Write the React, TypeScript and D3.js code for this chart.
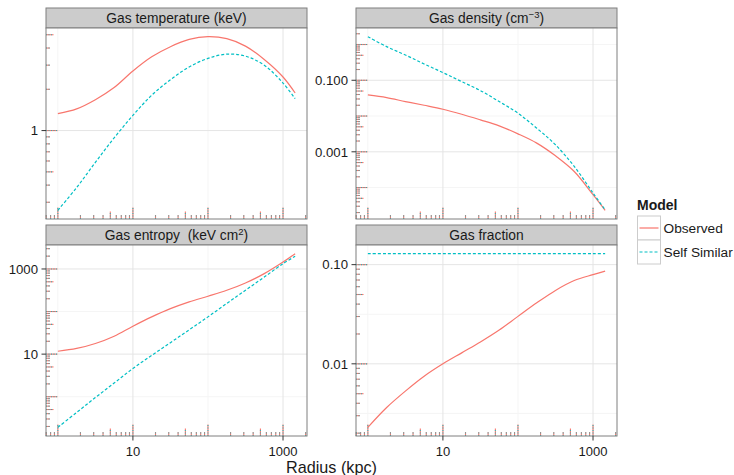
import React from 'react';
import * as d3 from 'd3';

// ---------- data ----------
const radius = [1, 1.78, 3.16, 5.62, 10, 17.8, 31.6, 56.2, 100, 178, 316, 562, 1000, 1450];

const tempObserved = [1.33, 1.44, 1.68, 2.06, 2.72, 3.45, 4.09, 4.62, 4.84, 4.68, 4.13, 3.3, 2.46, 1.88];
const tempSelfSimilar = [0.262, 0.384, 0.586, 0.884, 1.29, 1.81, 2.35, 2.91, 3.36, 3.61, 3.49, 3.0, 2.22, 1.71];

const densObserved = [0.039, 0.0328, 0.0254, 0.02, 0.0155, 0.01125, 0.00782, 0.00532, 0.00318, 0.00175, 0.000773, 0.000282, 0.0000631, 0.0000231];
const densSelfSimilar = [1.656, 0.871, 0.509, 0.286, 0.164, 0.0918, 0.0515, 0.0254, 0.012, 0.00457, 0.00157, 0.00039, 0.0000703, 0.000024];

const entObserved = [11.7, 13.6, 17.8, 26.4, 45.3, 75.0, 117, 169, 229, 316, 470, 778, 1459, 2286];
const entSelfSimilar = [0.191, 0.427, 0.955, 2.09, 4.61, 9.33, 18.6, 37.2, 75.0, 155, 316, 646, 1334, 1982];

const fgasObserved = [0.00229, 0.00363, 0.00531, 0.0075, 0.01, 0.0129, 0.0166, 0.0219, 0.0301, 0.0412, 0.055, 0.0692, 0.0793, 0.0859];
const fgasSelfSimilar = [0.129, 0.129, 0.129, 0.129, 0.129, 0.129, 0.129, 0.129, 0.129, 0.129, 0.129, 0.129, 0.129, 0.129];

const xBreaks = [10, 1000];
const xLabels = ['10', '1000'];
const xMinor = [1, 100];

const tempBreaks = [1];
const tempLabels = ['1'];
const tempMinor: number[] = [];
const densBreaks = [0.1, 0.001];
const densLabels = ['0.100', '0.001'];
const densMinor = [1, 0.01, 0.0001];
const entBreaks = [10, 1000];
const entLabels = ['10', '1000'];
const entMinor = [1, 100];
const fgasBreaks = [0.01, 0.1];
const fgasLabels = ['0.01', '0.10'];
const fgasMinor = [Math.pow(10, -1.5), Math.pow(10, -2.5)];

const seriesNames = ['Observed', 'Self Similar'];

// ---------- style ----------
const W = 734;
const H = 475;
const FONT = '"Liberation Sans", Arial, Helvetica, sans-serif';
const RED = '#F8766D';
const CYAN = '#00BFC4';
const PW = 261;
const PH = 191;
const LEFTS = [46, 356];
const TOPS = [28, 245];

function expandLog(vals: number[]): [number, number] {
  const logs = vals.map((v) => Math.log10(v));
  const lo = d3.min(logs) as number;
  const hi = d3.max(logs) as number;
  const pad = (hi - lo) * 0.05;
  return [Math.pow(10, lo - pad), Math.pow(10, hi + pad)];
}

function logTickValues(domain: [number, number]) {
  const lo = Math.log10(Math.min(domain[0], domain[1]));
  const hi = Math.log10(Math.max(domain[0], domain[1]));
  const out: { v: number; len: number }[] = [];
  for (let k = Math.floor(lo) - 1; k <= Math.ceil(hi); k++) {
    for (let m = 1; m <= 9; m++) {
      const v = m * Math.pow(10, k);
      const lv = Math.log10(v);
      if (lv >= lo - 1e-9 && lv <= hi + 1e-9) {
        out.push({ v, len: m === 1 ? 11.5 : m === 5 ? 7.5 : 4 });
      }
    }
  }
  return out;
}

type PanelProps = {
  title: React.ReactNode;
  obs: number[];
  ss: number[];
  breaks: number[];
  labels: string[];
  minor: number[];
  col: number;
  row: number;
};

function Panel({ title, obs, ss, breaks, labels, minor, col, row }: PanelProps) {
  const x0 = LEFTS[col];
  const y0 = TOPS[row];
  const x = d3.scaleLog().domain(expandLog(radius)).range([x0, x0 + PW]);
  const y = d3.scaleLog().domain(expandLog([...obs, ...ss])).range([y0 + PH, y0]);
  const line = d3
    .line<number>()
    .x((_, i) => x(radius[i]))
    .y((d) => y(d))
    .curve(d3.curveCatmullRom.alpha(0.5));
  const xt = logTickValues(x.domain() as [number, number]);
  const yt = logTickValues(y.domain() as [number, number]);
  const bottom = y0 + PH;
  return (
    <g>
      {/* strip */}
      <rect x={x0} y={y0 - 20} width={PW} height={20} fill="#CCCCCC" stroke="#7F7F7F" strokeWidth={1} />
      <text x={x0 + PW / 2} y={y0 - 5} textAnchor="middle" fontSize={13.8} fontFamily={FONT} fill="#1A1A1A">
        {title}
      </text>
      {/* panel background */}
      <rect x={x0} y={y0} width={PW} height={PH} fill="white" />
      {/* grid */}
      {minor.map((v, i) => (
        <line key={'hm' + i} x1={x0} x2={x0 + PW} y1={y(v)} y2={y(v)} stroke="#F5F5F5" strokeWidth={1} />
      ))}
      {xMinor.map((v, i) => (
        <line key={'vm' + i} x1={x(v)} x2={x(v)} y1={y0} y2={bottom} stroke="#F5F5F5" strokeWidth={1} />
      ))}
      {breaks.map((v, i) => (
        <line key={'hM' + i} x1={x0} x2={x0 + PW} y1={y(v)} y2={y(v)} stroke="#E5E5E5" strokeWidth={1} />
      ))}
      {xBreaks.map((v, i) => (
        <line key={'vM' + i} x1={x(v)} x2={x(v)} y1={y0} y2={bottom} stroke="#E5E5E5" strokeWidth={1} />
      ))}
      {/* log ticks (drawn for both groups) */}
      {xt.map((t, i) => (
        <g key={'xt' + i}>
          <line x1={x(t.v)} x2={x(t.v)} y1={bottom} y2={bottom - t.len} stroke={RED} strokeWidth={1.1} />
          <line x1={x(t.v)} x2={x(t.v)} y1={bottom} y2={bottom - t.len} stroke={CYAN} strokeWidth={1.1} strokeDasharray="1,1.5" strokeOpacity={0.8} />
        </g>
      ))}
      {yt.map((t, i) => (
        <g key={'yt' + i}>
          <line x1={x0} x2={x0 + t.len} y1={y(t.v)} y2={y(t.v)} stroke={RED} strokeWidth={1.1} />
          <line x1={x0} x2={x0 + t.len} y1={y(t.v)} y2={y(t.v)} stroke={CYAN} strokeWidth={1.1} strokeDasharray="1,1.5" strokeOpacity={0.8} />
        </g>
      ))}
      {/* series */}
      <path d={line(obs) || ''} fill="none" stroke={RED} strokeWidth={1.2} />
      <path d={line(ss) || ''} fill="none" stroke={CYAN} strokeWidth={1.2} strokeDasharray="3,2" />
      {/* border */}
      <rect x={x0} y={y0} width={PW} height={PH} fill="none" stroke="#7F7F7F" strokeWidth={1} />
      {/* y axis */}
      {breaks.map((v, i) => (
        <g key={'ya' + i}>
          <line x1={x0 - 4.5} x2={x0} y1={y(v)} y2={y(v)} stroke="#333333" strokeWidth={1} />
          <text x={x0 - 8} y={y(v)} dy="0.36em" textAnchor="end" fontSize={13.2} fontFamily={FONT} fill="#1A1A1A">
            {labels[i]}
          </text>
        </g>
      ))}
      {/* x axis (bottom row only) */}
      {row === 1 &&
        xBreaks.map((v, i) => (
          <g key={'xa' + i}>
            <line x1={x(v)} x2={x(v)} y1={bottom} y2={bottom + 4.5} stroke="#333333" strokeWidth={1} />
            <text x={x(v)} y={bottom + 19.8} textAnchor="middle" fontSize={13} fontFamily={FONT} fill="#1A1A1A">
              {xLabels[i]}
            </text>
          </g>
        ))}
    </g>
  );
}

export default function App() {
  return (
    <svg width={W} height={H} style={{ position: 'absolute', left: 0, top: 0, background: 'white' }}>
      <rect width={W} height={H} fill="white" />
      <Panel
        title="Gas temperature (keV)"
        obs={tempObserved}
        ss={tempSelfSimilar}
        breaks={tempBreaks}
        labels={tempLabels}
        minor={tempMinor}
        col={0}
        row={0}
      />
      <Panel
        title={
          <>
            Gas density (cm
            <tspan dy={-5} fontSize={9.5}>−3</tspan>
            <tspan dy={5}>)</tspan>
          </>
        }
        obs={densObserved}
        ss={densSelfSimilar}
        breaks={densBreaks}
        labels={densLabels}
        minor={densMinor}
        col={1}
        row={0}
      />
      <Panel
        title={
          <>
            {'Gas entropy\u00A0 (keV cm'}
            <tspan dy={-5} fontSize={9.5}>2</tspan>
            <tspan dy={5}>)</tspan>
          </>
        }
        obs={entObserved}
        ss={entSelfSimilar}
        breaks={entBreaks}
        labels={entLabels}
        minor={entMinor}
        col={0}
        row={1}
      />
      <Panel
        title="Gas fraction"
        obs={fgasObserved}
        ss={fgasSelfSimilar}
        breaks={fgasBreaks}
        labels={fgasLabels}
        minor={fgasMinor}
        col={1}
        row={1}
      />
      {/* x axis title */}
      <text x={331.5} y={473} textAnchor="middle" fontSize={16.2} fontFamily={FONT} fill="#1A1A1A">
        Radius (kpc)
      </text>
      {/* legend */}
      <g fontFamily={FONT}>
        <text x={637} y={209.5} fontSize={14} fontWeight="bold" fill="#1A1A1A">
          Model
        </text>
        {seriesNames.map((name, i) => (
          <g key={name}>
            <rect x={637.5} y={216 + i * 24} width={23} height={24} fill="white" stroke="#CCCCCC" strokeWidth={1} />
            <line
              x1={639.5}
              x2={658.5}
              y1={228 + i * 24}
              y2={228 + i * 24}
              stroke={i === 0 ? RED : CYAN}
              strokeWidth={1.2}
              strokeDasharray={i === 0 ? undefined : '3,2'}
            />
            <text x={663.5} y={228 + i * 24} dy="0.36em" fontSize={13.7} fill="#1A1A1A">
              {name}
            </text>
          </g>
        ))}
      </g>
    </svg>
  );
}
